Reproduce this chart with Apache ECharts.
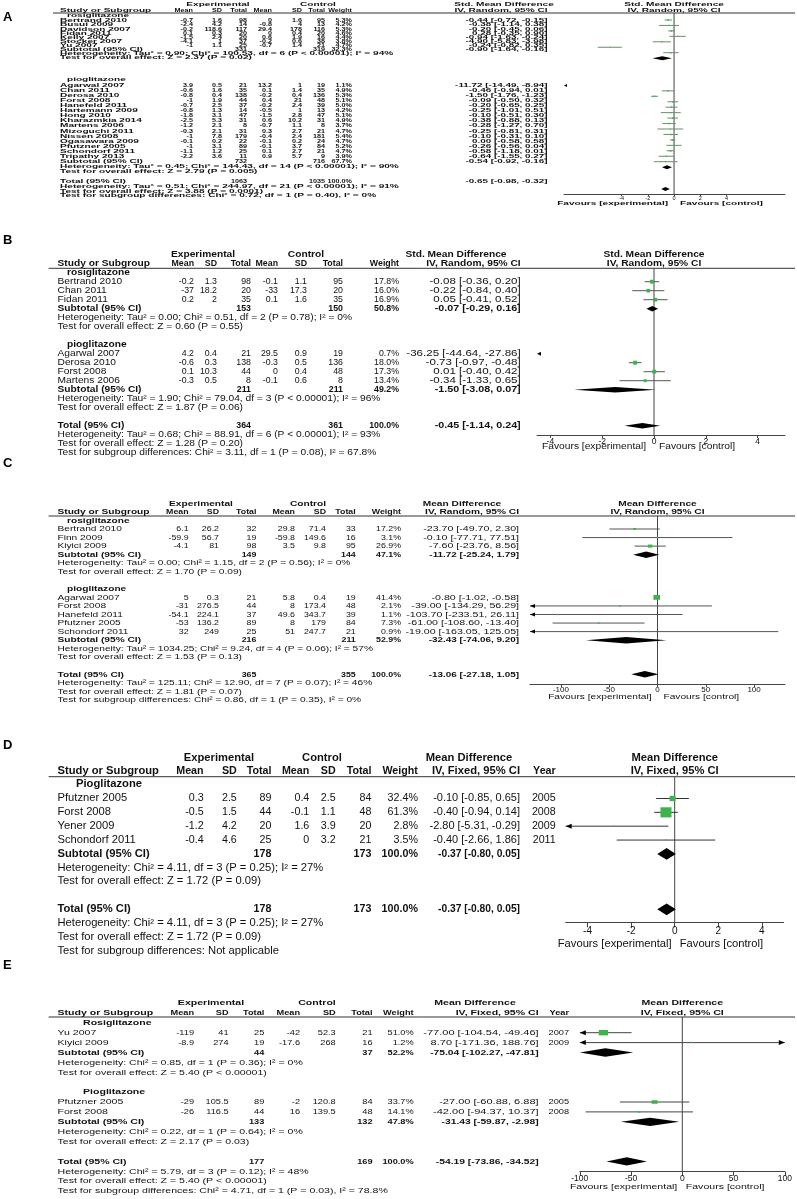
<!DOCTYPE html>
<html><head><meta charset="utf-8">
<script src="https://cdn.jsdelivr.net/npm/echarts@6/dist/echarts.min.js"></script>
<style>html,body{margin:0;padding:0;background:#fff}#c{width:797px;height:1199px}</style>
</head><body><div id="c"></div>
<script>
// ================= DATA =================
// study row: [name, expMean, expSD, expN, ctlMean, ctlSD, ctlN, weight%, est, lo, hi, year?]
// subtotal / total: [expN, ctlN, weight%, est, lo, hi]
const A_rosiglitazone = [
  ['Bertrand 2010', -0.7, 1.6, 98, 0, 1.6, 95, 5.3, -0.44, -0.72, -0.15],
  ['Busui 2009', -2.4, 4.2, 14, -0.8, 4, 13, 4.2, -0.38, -1.14, 0.38],
  ['Davidson 2007', -0.2, 118.6, 117, 29.4, 178, 116, 5.3, -0.20, -0.45, 0.06],
  ['Fidan 2011', 0.1, 0.3, 20, 0, 0.4, 20, 4.6, 0.28, -0.35, 0.90],
  ['Kelly 2007', -1.5, 2.4, 20, 0.6, 1.9, 16, 4.4, -0.94, -1.63, -0.24],
  ['Stocker 2007', -4.1, 1, 37, -0.2, 0.6, 38, 3.8, -4.90, -5.83, -3.98],
  ['Yu 2007', -1, 1.1, 25, -0.7, 1.4, 21, 4.7, -0.24, -0.82, 0.35]
];
const A_rosiglitazone_subtotal = [331, 319, 32.3, -0.90, -1.64, -0.16];
const A_rosiglitazone_notes = ['Heterogeneity: Tau² = 0.90; Chi² = 100.53, df = 6 (P < 0.00001); I² = 94%', 'Test for overall effect: Z = 2.37 (P = 0.02)'];
const A_pioglitazone = [
  ['Agarwal 2007', 3.9, 0.5, 21, 13.2, 1, 19, 1.1, -11.72, -14.49, -8.94],
  ['Chan 2011', -0.6, 1.6, 35, 0.1, 1.4, 35, 4.9, -0.46, -0.94, 0.01],
  ['Derosa 2010', -0.8, 0.4, 138, -0.2, 0.4, 136, 5.3, -1.50, -1.76, -1.23],
  ['Forst 2008', -1, 1.9, 44, 0.4, 21, 48, 5.1, -0.09, -0.50, 0.32],
  ['Hanefeld 2011', -0.7, 2.5, 37, -0.2, 2.4, 39, 5.0, -0.20, -0.65, 0.25],
  ['Hartemann 2009', -0.8, 1.3, 14, -0.5, 1, 13, 4.2, -0.25, -1.01, 0.51],
  ['Hong 2010', -1.8, 3.1, 47, -1.5, 2.8, 47, 5.1, -0.10, -0.51, 0.30],
  ['Kharazmkia 2014', -2.5, 5.3, 31, 0.6, 10.2, 31, 4.9, -0.38, -0.88, 0.13],
  ['Martens 2006', -1.2, 2.1, 8, -0.7, 1.1, 8, 3.7, -0.28, -1.27, 0.70],
  ['Mizoguchi 2011', -0.3, 2.1, 31, 0.3, 2.7, 21, 4.7, -0.25, -0.81, 0.31],
  ['Nissen 2008', -1, 7.8, 179, -0.4, 2.4, 181, 5.4, -0.10, -0.31, 0.10],
  ['Ogasawara 2009', -0.1, 0.2, 22, -0.1, 0.2, 24, 4.7, 0.00, -0.58, 0.58],
  ['Pfutzner 2005', -1, 3.1, 89, -0.1, 3.7, 84, 5.2, -0.26, -0.56, 0.04],
  ['Schondorf 2011', -1.1, 1.2, 25, 0.1, 2.7, 21, 4.7, -0.58, -1.18, 0.01],
  ['Tripathy 2013', -2.2, 3.6, 11, 0.9, 5.7, 9, 3.9, -0.64, -1.55, 0.27]
];
const A_pioglitazone_subtotal = [732, 716, 67.7, -0.54, -0.92, -0.16];
const A_pioglitazone_notes = ['Heterogeneity: Tau² = 0.45; Chi² = 144.43, df = 14 (P < 0.00001); I² = 90%', 'Test for overall effect: Z = 2.79 (P = 0.005)'];
const A_total = [1063, 1035, 100.0, -0.65, -0.98, -0.32];
const A_total_notes = ['Heterogeneity: Tau² = 0.51; Chi² = 244.97, df = 21 (P < 0.00001); I² = 91%', 'Test for overall effect: Z = 3.88 (P = 0.0001)', 'Test for subgroup differences: Chi² = 0.72, df = 1 (P = 0.40), I² = 0%'];
const A_ticks = [-4, -2, 0, 2, 4];

const B_rosiglitazone = [
  ['Bertrand 2010', -0.2, 1.3, 98, -0.1, 1.1, 95, 17.8, -0.08, -0.36, 0.20],
  ['Chan 2011', -37, 18.2, 20, -33, 17.3, 20, 16.0, -0.22, -0.84, 0.40],
  ['Fidan 2011', 0.2, 2, 35, 0.1, 1.6, 35, 16.9, 0.05, -0.41, 0.52]
];
const B_rosiglitazone_subtotal = [153, 150, 50.8, -0.07, -0.29, 0.16];
const B_rosiglitazone_notes = ['Heterogeneity: Tau² = 0.00; Chi² = 0.51, df = 2 (P = 0.78); I² = 0%', 'Test for overall effect: Z = 0.60 (P = 0.55)'];
const B_pioglitazone = [
  ['Agarwal 2007', 4.2, 0.4, 21, 29.5, 0.9, 19, 0.7, -36.25, -44.64, -27.86],
  ['Derosa 2010', -0.6, 0.3, 138, -0.3, 0.5, 136, 18.0, -0.73, -0.97, -0.48],
  ['Forst 2008', 0.1, 10.3, 44, 0, 0.4, 48, 17.3, 0.01, -0.40, 0.42],
  ['Martens 2006', -0.3, 0.5, 8, -0.1, 0.6, 8, 13.4, -0.34, -1.33, 0.65]
];
const B_pioglitazone_subtotal = [211, 211, 49.2, -1.50, -3.08, 0.07];
const B_pioglitazone_notes = ['Heterogeneity: Tau² = 1.90; Chi² = 79.04, df = 3 (P < 0.00001); I² = 96%', 'Test for overall effect: Z = 1.87 (P = 0.06)'];
const B_total = [364, 361, 100.0, -0.45, -1.14, 0.24];
const B_total_notes = ['Heterogeneity: Tau² = 0.68; Chi² = 88.91, df = 6 (P < 0.00001); I² = 93%', 'Test for overall effect: Z = 1.28 (P = 0.20)', 'Test for subgroup differences: Chi² = 3.11, df = 1 (P = 0.08), I² = 67.8%'];
const B_ticks = [-4, -2, 0, 2, 4];

const C_rosiglitazone = [
  ['Bertrand 2010', 6.1, 26.2, 32, 29.8, 71.4, 33, 17.2, -23.70, -49.70, 2.30],
  ['Finn 2009', -59.9, 56.7, 19, -59.8, 149.6, 16, 3.1, -0.10, -77.71, 77.51],
  ['Kiyici 2009', -4.1, 81, 98, 3.5, 9.8, 95, 26.9, -7.60, -23.76, 8.56]
];
const C_rosiglitazone_subtotal = [149, 144, 47.1, -11.72, -25.24, 1.79];
const C_rosiglitazone_notes = ['Heterogeneity: Tau² = 0.00; Chi² = 1.15, df = 2 (P = 0.56); I² = 0%', 'Test for overall effect: Z = 1.70 (P = 0.09)'];
const C_pioglitazone = [
  ['Agarwal 2007', 5, 0.3, 21, 5.8, 0.4, 19, 41.4, -0.80, -1.02, -0.58],
  ['Forst 2008', -31, 276.5, 44, 8, 173.4, 48, 2.1, -39.00, -134.29, 56.29],
  ['Hanefeld 2011', -54.1, 224.1, 37, 49.6, 343.7, 39, 1.1, -103.70, -233.51, 26.11],
  ['Pfutzner 2005', -53, 136.2, 89, 8, 179, 84, 7.3, -61.00, -108.60, -13.40],
  ['Schondorf 2011', 32, 249, 25, 51, 247.7, 21, 0.9, -19.00, -163.05, 125.05]
];
const C_pioglitazone_subtotal = [216, 211, 52.9, -32.43, -74.06, 9.20];
const C_pioglitazone_notes = ['Heterogeneity: Tau² = 1034.25; Chi² = 9.24, df = 4 (P = 0.06); I² = 57%', 'Test for overall effect: Z = 1.53 (P = 0.13)'];
const C_total = [365, 355, 100.0, -13.06, -27.18, 1.05];
const C_total_notes = ['Heterogeneity: Tau² = 125.11; Chi² = 12.90, df = 7 (P = 0.07); I² = 46%', 'Test for overall effect: Z = 1.81 (P = 0.07)', 'Test for subgroup differences: Chi² = 0.86, df = 1 (P = 0.35), I² = 0%'];
const C_ticks = [-100, -50, 0, 50, 100];

const D_pioglitazone = [
  ['Pfutzner 2005', 0.3, 2.5, 89, 0.4, 2.5, 84, 32.4, -0.10, -0.85, 0.65, 2005],
  ['Forst 2008', -0.5, 1.5, 44, -0.1, 1.1, 48, 61.3, -0.40, -0.94, 0.14, 2008],
  ['Yener 2009', -1.2, 4.2, 20, 1.6, 3.9, 20, 2.8, -2.80, -5.31, -0.29, 2009],
  ['Schondorf 2011', -0.4, 4.6, 25, 0, 3.2, 21, 3.5, -0.40, -2.66, 1.86, 2011]
];
const D_pioglitazone_subtotal = [178, 173, 100.0, -0.37, -0.80, 0.05];
const D_pioglitazone_notes = ['Heterogeneity: Chi² = 4.11, df = 3 (P = 0.25); I² = 27%', 'Test for overall effect: Z = 1.72 (P = 0.09)'];
const D_total = [178, 173, 100.0, -0.37, -0.80, 0.05];
const D_total_notes = ['Heterogeneity: Chi² = 4.11, df = 3 (P = 0.25); I² = 27%', 'Test for overall effect: Z = 1.72 (P = 0.09)', 'Test for subgroup differences: Not applicable'];
const D_ticks = [-4, -2, 0, 2, 4];

const E_rosiglitazone = [
  ['Yu 2007', -119, 41, 25, -42, 52.3, 21, 51.0, -77.00, -104.54, -49.46, 2007],
  ['Kiyici 2009', -8.9, 274, 19, -17.6, 268, 16, 1.2, 8.70, -171.36, 188.76, 2009]
];
const E_rosiglitazone_subtotal = [44, 37, 52.2, -75.04, -102.27, -47.81];
const E_rosiglitazone_notes = ['Heterogeneity: Chi² = 0.85, df = 1 (P = 0.36); I² = 0%', 'Test for overall effect: Z = 5.40 (P < 0.00001)'];
const E_pioglitazone = [
  ['Pfutzner 2005', -29, 105.5, 89, -2, 120.8, 84, 33.7, -27.00, -60.88, 6.88, 2005],
  ['Forst 2008', -26, 116.5, 44, 16, 139.5, 48, 14.1, -42.00, -94.37, 10.37, 2008]
];
const E_pioglitazone_subtotal = [133, 132, 47.8, -31.43, -59.87, -2.98];
const E_pioglitazone_notes = ['Heterogeneity: Chi² = 0.22, df = 1 (P = 0.64); I² = 0%', 'Test for overall effect: Z = 2.17 (P = 0.03)'];
const E_total = [177, 169, 100.0, -54.19, -73.86, -34.52];
const E_total_notes = ['Heterogeneity: Chi² = 5.79, df = 3 (P = 0.12); I² = 48%', 'Test for overall effect: Z = 5.40 (P < 0.00001)', 'Test for subgroup differences: Chi² = 4.71, df = 1 (P = 0.03), I² = 78.8%'];
const E_ticks = [-100, -50, 0, 50, 100];

const panels = [
  {letter: 'A', measure: ['Std. Mean Difference', 'IV, Random, 95% CI'],
   groups: [{label: 'rosiglitazone', rows: A_rosiglitazone, sub: A_rosiglitazone_subtotal, notes: A_rosiglitazone_notes},
            {label: 'pioglitazone', rows: A_pioglitazone, sub: A_pioglitazone_subtotal, notes: A_pioglitazone_notes}],
   total: A_total, totalNotes: A_total_notes, ticks: A_ticks},
  {letter: 'B', measure: ['Std. Mean Difference', 'IV, Random, 95% CI'],
   groups: [{label: 'rosiglitazone', rows: B_rosiglitazone, sub: B_rosiglitazone_subtotal, notes: B_rosiglitazone_notes},
            {label: 'pioglitazone', rows: B_pioglitazone, sub: B_pioglitazone_subtotal, notes: B_pioglitazone_notes}],
   total: B_total, totalNotes: B_total_notes, ticks: B_ticks},
  {letter: 'C', measure: ['Mean Difference', 'IV, Random, 95% CI'],
   groups: [{label: 'rosiglitazone', rows: C_rosiglitazone, sub: C_rosiglitazone_subtotal, notes: C_rosiglitazone_notes},
            {label: 'pioglitazone', rows: C_pioglitazone, sub: C_pioglitazone_subtotal, notes: C_pioglitazone_notes}],
   total: C_total, totalNotes: C_total_notes, ticks: C_ticks},
  {letter: 'D', measure: ['Mean Difference', 'IV, Fixed, 95% CI'], year: true,
   groups: [{label: 'Pioglitazone', rows: D_pioglitazone, sub: D_pioglitazone_subtotal, notes: D_pioglitazone_notes}],
   total: D_total, totalNotes: D_total_notes, ticks: D_ticks},
  {letter: 'E', measure: ['Mean Difference', 'IV, Fixed, 95% CI'], year: true,
   groups: [{label: 'Rosiglitazone', rows: E_rosiglitazone, sub: E_rosiglitazone_subtotal, notes: E_rosiglitazone_notes},
            {label: 'Pioglitazone', rows: E_pioglitazone, sub: E_pioglitazone_subtotal, notes: E_pioglitazone_notes}],
   total: E_total, totalNotes: E_total_notes, ticks: E_ticks}
];

// ================= LAYOUT / STYLE =================
const FAM = "'Liberation Sans', Arial, Helvetica, sans-serif";
const LAYOUT = [
  { letterY: 17, font: 4.8, sx: 2.1, sxNum: 1.5, sxCI: 2.05, allBold: true, h1: 4.3, h2: 10.2, name: 60, group: 67,
    cols: [193, 222, 247, 272, 302, 325, 352], ci: 547.5, hExp: 218, hCtl: 318, hCI: 504, lineX0: 53,
    textY: k => k < 0 ? 15.7 : k <= 9 ? 21 + 4.1 * k : k <= 11 ? 79.7 : k <= 29 ? 85.3 + 5.1 * (k - 12) : 182 + 4.6 * (k - 31),
    plot: {left: 564, right: 785, top: 13, bottom: 194.3, xMin: -8.4, xMax: 8.47, r0: 20, step: 5.45},
    tick: {font: 5.5, margin: 1.5, len: 2}, fav: {y: 203.5, gapL: 6, gapR: 6},
    mark: {ci: '#6a8f6a', sqK: [0.3, 0.3], sqMin: 1, dH: 4, arrow: [3, 3]} },
  { letterY: 240, font: 8.4, sx: 1.22, sxNum: 1.05, sxCI: 1.38, h1: 254.7, h2: 263.3, name: 57.5, group: 67,
    cols: [194, 217, 251, 278, 307, 343, 399], ci: 520.7, hExp: 203, hCtl: 306, hCI: 456, lineX0: 48.6,
    plot: {left: 537, right: 785, top: 268.3, bottom: 435, xMin: -4.52, xMax: 5.06, r0: 281.7, step: 9},
    tick: {font: 8.5, margin: 2, len: 3}, fav: {y: 447, gapL: 8, gapR: 5},
    mark: {ci: '#555', sqK: [0.22, 0.22], sqMin: 1.5, dH: 5.5, arrow: [4, 4]} },
  { letterY: 463, font: 8, sx: 1.27, sxNum: 1.1, sxCI: 1.33, h1: 503.4, h2: 511.5, name: 57.5, group: 67,
    cols: [188.6, 219, 256.4, 295, 326, 355.7, 401], ci: 519, hExp: 201, hCtl: 308, hCI: 462, lineX0: 48.6,
    plot: {left: 530, right: 785, top: 516, bottom: 684, xMin: -132, xMax: 132, r0: 529, step: 8.55},
    tick: {font: 8, margin: 2, len: 3}, fav: {y: 697, gapL: 6, gapR: 6},
    mark: {ci: '#555', sqK: [0.16, 0.115], sqMin: 1.5, dH: 6.5, arrow: [5, 4]} },
  { letterY: 745, font: 10.2, sx: 1.1, sxNum: 1.05, sxCI: 1.08, h1: 757.7, h2: 771, name: 57.5, group: 76,
    cols: [203.6, 236.8, 271.4, 309.3, 335.7, 371.4, 417.9], ci: 520, year: 555.7, hExp: 219, hCtl: 322, hCI: 469, lineX0: 48.6,
    plot: {left: 565.7, right: 783.7, top: 776.7, bottom: 922.3, xMin: -5, xMax: 5, r0: 798.5, step: 13.85},
    tick: {font: 10, margin: 4, len: 5}, fav: {y: 944, gapL: 3, gapR: 5},
    mark: {ci: '#333', sqK: [0.18, 0.165], sqMin: 1.5, dH: 11.7, arrow: [6, 5]} },
  { letterY: 965, font: 8, sx: 1.32, sxNum: 1.15, sxCI: 1.38, h1: 1003, h2: 1012.5, name: 57.5, group: 83,
    cols: [194, 228.6, 264.3, 300, 335.7, 372.5, 413.6], ci: 538.6, year: 569, hExp: 211, hCtl: 317, hCI: 475, lineX0: 48.6,
    plot: {left: 579.8, right: 784.8, top: 1017, bottom: 1171.7, xMin: -100, xMax: 100, r0: 1032.7, step: 9.9},
    tick: {font: 8.5, margin: 2, len: 4}, fav: {y: 1187, gapL: 5, gapR: 3.5},
    mark: {ci: '#444', sqK: [0.18, 0.105], sqMin: 1.5, dH: 8.3, arrow: [6, 5]} }
];

// ================= BUILD =================
const fmt = v => String(v);
const f2 = v => v.toFixed(2);
const ciStr = (e, l, h) => f2(e) + ' [' + f2(l) + ', ' + f2(h) + ']';
const wStr = w => w.toFixed(1) + '%';

function txt(x, y, s, size, sx, align, bold, color) {
  return {type: 'text', x: x, y: y, scaleX: sx, silent: true, z: 10,
    style: {text: s, font: (bold ? 'bold ' : '') + size + 'px ' + FAM, fill: color || '#111',
      textAlign: align, align: align, textVerticalAlign: 'middle', verticalAlign: 'middle'}};
}

const grids = [], xAxes = [], yAxes = [], series = [], graphics = [];

panels.forEach((P, i) => {
  const L = LAYOUT[i];
  const pl = L.plot;
  const ty = L.textY || (k => pl.r0 + pl.step * k);
  const T = (x, y, s, align, bold) => graphics.push(txt(x, y, s, L.font, L.sx, align, bold || L.allBold));
  const N = (x, y, s, bold) => graphics.push(txt(x, y, s, L.font, L.sxNum, 'right', bold || L.allBold));
  const CI = (y, s, bold) => graphics.push(txt(L.ci, y, s, L.font, L.sxCI * (bold && !L.allBold ? 0.93 : 1), 'right', bold || L.allBold));
  graphics.push(txt(3, L.letterY, P.letter, 13, 1, 'left', true, '#000'));
  T(L.hExp, L.h1, 'Experimental', 'center', true);
  T(L.hCtl, L.h1, 'Control', 'center', true);
  T(L.hCI, L.h1, P.measure[0], 'center', true);
  T(L.name, L.h2, 'Study or Subgroup', 'left', true);
  ['Mean', 'SD', 'Total', 'Mean', 'SD', 'Total', 'Weight'].forEach((h, j) => N(L.cols[j], L.h2, h, true));
  T(L.ci, L.h2, P.measure[1], 'right', true);
  if (P.year) N(L.year, L.h2, 'Year', true);
  graphics.push({type: 'line', silent: true, shape: {x1: L.lineX0, y1: pl.top, x2: 795, y2: pl.top},
    style: {stroke: '#333', lineWidth: 1}});

  const data = [];
  let k = -1;
  const sumRow = (label, s) => {
    const y = ty(k);
    T(L.name, y, label, 'left', true);
    N(L.cols[2], y, fmt(s[0]), true);
    N(L.cols[5], y, fmt(s[1]), true);
    N(L.cols[6], y, wStr(s[2]), true);
    CI(y, ciStr(s[3], s[4], s[5]), true);
    data.push([k, s[3], s[4], s[5], s[2], 1]);
  };
  P.groups.forEach(g => {
    T(L.group, ty(k), g.label, 'left', true); k++;
    g.rows.forEach(r => {
      const y = ty(k);
      T(L.name, y, r[0], 'left', false);
      for (let j = 0; j < 6; j++) N(L.cols[j], y, fmt(r[j + 1]), false);
      N(L.cols[6], y, wStr(r[7]), false);
      CI(y, ciStr(r[8], r[9], r[10]), false);
      if (P.year) N(L.year, y, fmt(r[11]), false);
      data.push([k, r[8], r[9], r[10], r[7], 0]);
      k++;
    });
    sumRow('Subtotal (95% CI)', g.sub); k++;
    g.notes.forEach(n => { T(L.name, ty(k), n, 'left', false); k++; });
    k++;
  });
  sumRow('Total (95% CI)', P.total); k++;
  P.totalNotes.forEach(n => { T(L.name, ty(k), n, 'left', false); k++; });

  const yMin = (pl.top - pl.r0) / pl.step, yMax = (pl.bottom - pl.r0) / pl.step;
  grids.push({left: pl.left, top: pl.top, width: pl.right - pl.left, height: pl.bottom - pl.top,
    containLabel: false, outerBoundsMode: 'none', show: false});
  xAxes.push({type: 'value', gridIndex: i, min: pl.xMin, max: pl.xMax, splitLine: {show: false},
    axisLine: {show: true, onZero: false, lineStyle: {color: '#444', width: 1}},
    axisTick: {show: true, customValues: P.ticks, length: L.tick.len, lineStyle: {color: '#444'}},
    axisLabel: {show: true, customValues: P.ticks, fontSize: L.tick.font, margin: L.tick.margin,
      color: '#111', fontFamily: FAM, formatter: v => String(v)}});
  yAxes.push({type: 'value', gridIndex: i, inverse: true, min: yMin, max: yMax, show: false});
  series.push({type: 'line', xAxisIndex: i, yAxisIndex: i, data: [[0, yMin], [0, yMax]], symbol: 'none',
    silent: true, z: 1, lineStyle: {color: '#444', width: 1}, animation: false});
  series.push({type: 'custom', xAxisIndex: i, yAxisIndex: i, z: 3, silent: true, animation: false,
    encode: {x: 1, y: 0}, data: data,
    renderItem: (params, api) => {
      const M = L.mark;
      const kk = api.value(0), est = api.value(1), lo = api.value(2), hi = api.value(3), w = api.value(4), kind = api.value(5);
      const cl = v => Math.max(pl.xMin, Math.min(pl.xMax, v));
      const X = v => api.coord([cl(v), kk])[0];
      const y = api.coord([0, kk])[1];
      if (kind === 1) {
        const h = M.dH / 2;
        return {type: 'polygon', shape: {points: [[X(lo), y], [X(est), y - h], [X(hi), y], [X(est), y + h]]},
          style: {fill: '#000'}};
      }
      const ch = [];
      const xl = X(lo), xh = X(hi);
      const [aw, ah] = M.arrow;
      if (hi < pl.xMin) {
        ch.push({type: 'polygon', shape: {points: [[xl, y], [xl + aw, y - ah / 2], [xl + aw, y + ah / 2]]}, style: {fill: '#000'}});
        return {type: 'group', children: ch};
      }
      ch.push({type: 'line', shape: {x1: xl, y1: y, x2: xh, y2: y}, style: {stroke: M.ci, lineWidth: 1}});
      if (lo < pl.xMin) ch.push({type: 'polygon', shape: {points: [[xl, y], [xl + aw, y - ah / 2], [xl + aw, y + ah / 2]]}, style: {fill: '#000'}});
      if (hi > pl.xMax) ch.push({type: 'polygon', shape: {points: [[xh, y], [xh - aw, y - ah / 2], [xh - aw, y + ah / 2]]}, style: {fill: '#000'}});
      if (est >= pl.xMin && est <= pl.xMax) {
        const sw = Math.max(M.sqMin, M.sqK[0] * w), sh = Math.max(M.sqMin, M.sqK[1] * w);
        ch.push({type: 'rect', shape: {x: X(est) - sw / 2, y: y - sh / 2, width: sw, height: sh}, style: {fill: '#3cb44b'}});
      }
      return {type: 'group', children: ch};
    }});
});

const chart = echarts.init(document.getElementById('c'), null, {renderer: 'canvas'});
chart.setOption({animation: false, backgroundColor: '#fff', grid: grids, xAxis: xAxes, yAxis: yAxes, series: series});

panels.forEach((P, i) => {
  const L = LAYOUT[i];
  const z0 = chart.convertToPixel({xAxisIndex: i}, 0);
  graphics.push(txt(z0, L.h1, P.measure[0], L.font, L.sx, 'center', true));
  graphics.push(txt(z0, L.h2, P.measure[1], L.font, L.sx, 'center', true));
  graphics.push(txt(z0 - L.fav.gapL, L.fav.y, 'Favours [experimental]', L.font, L.sx, 'right', L.allBold));
  graphics.push(txt(z0 + L.fav.gapR, L.fav.y, 'Favours [control]', L.font, L.sx, 'left', L.allBold));
});
chart.setOption({graphic: {elements: graphics}});
</script>
</body></html>
